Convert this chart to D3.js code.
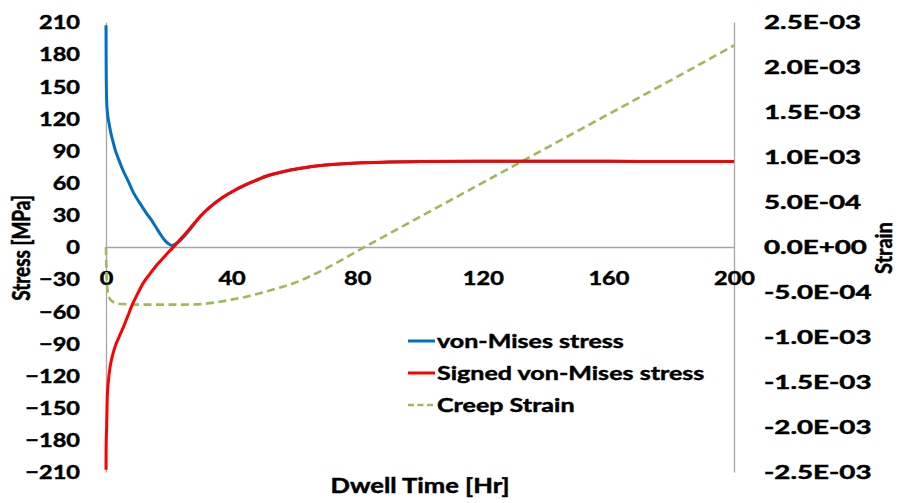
<!DOCTYPE html>
<html>
<head>
<meta charset="utf-8">
<script src="https://cdn.jsdelivr.net/npm/d3@7"></script>
<style>
  body { margin: 0; background: #fff; }
  svg text { font-family: Lato, "Open Sans", sans-serif; font-weight: 700; fill: #000; stroke: #000; stroke-width: 0.45px; }
</style>
</head>
<body>
<svg id="chart" width="899" height="503"></svg>
<script>
// Dwell time [Hr] samples and values for each series
const vonMisesTime = [0, 0.05, 0.2, 0.5, 1, 1.5, 2, 3, 4, 5.5, 7, 8.7, 11, 13, 14.5, 16, 17.3, 18.5, 19.7, 20.9, 22.2, 23.6, 25.2, 26.8, 28.5, 30, 33, 37, 41, 46, 51, 56, 62, 70, 80, 90, 100, 120, 140, 160, 180, 200];
const vonMises = [207, 170, 137, 124, 115, 107, 101, 90, 82, 71, 62, 51, 40, 31, 25, 18, 12, 7, 3.5, 1.5, 3, 6, 11, 16.5, 23, 28.5, 37, 46, 53, 60, 66, 70, 73.5, 76.5, 78.5, 79.3, 79.7, 80, 80, 80, 79.8, 79.7];

const signedTime = [0, 0.05, 0.2, 0.4, 0.8, 1.3, 2, 2.9, 4, 5.5, 7, 8.2, 10, 12, 14, 16, 18, 20, 21.5, 23, 25, 27.5, 30, 33, 37, 41, 46, 51, 56, 62, 70, 80, 90, 100, 120, 140, 160, 180, 200];
const signedVonMises = [-208, -185, -168, -140, -124, -112, -102, -93, -85, -75, -64, -55, -44, -33, -25, -17.5, -11, -4.5, 0, 5, 11.5, 20, 28.5, 37, 46, 53, 60, 66, 70, 73.5, 76.5, 78.5, 79.3, 79.7, 80, 80, 80, 79.8, 79.7];

const creepTime = [0, 0.1, 0.3, 0.6, 1, 1.5, 2.5, 4, 6, 10, 15, 20, 25, 30, 35, 40, 45, 50, 55, 60, 65, 70, 75, 80, 85, 100, 120, 140, 160, 180, 200];
const creepStrain = [0, -2.0e-4, -4.0e-4, -5.0e-4, -5.6e-4, -5.9e-4, -6.15e-4, -6.3e-4, -6.35e-4, -6.4e-4, -6.4e-4, -6.4e-4, -6.4e-4, -6.35e-4, -6.15e-4, -5.85e-4, -5.5e-4, -5.05e-4, -4.55e-4, -4.0e-4, -3.25e-4, -2.4e-4, -1.45e-4, -0.45e-4, 0.5e-4, 3.35e-4, 7.15e-4, 10.95e-4, 14.75e-4, 18.55e-4, 22.4e-4];

// Tick values and labels
const timeTicks = [0, 40, 80, 120, 160, 200];
const stressTicks = [-210, -180, -150, -120, -90, -60, -30, 0, 30, 60, 90, 120, 150, 180, 210];
const strainTicks = [-2.5e-3, -2.0e-3, -1.5e-3, -1.0e-3, -5.0e-4, 0, 5.0e-4, 1.0e-3, 1.5e-3, 2.0e-3, 2.5e-3];
const strainTickLabels = ["-2.5E-03", "-2.0E-03", "-1.5E-03", "-1.0E-03", "-5.0E-04", "0.0E+00", "5.0E-04", "1.0E-03", "1.5E-03", "2.0E-03", "2.5E-03"];

const seriesNames = ["von-Mises stress", "Signed von-Mises stress", "Creep Strain"];
const seriesColors = ["#0070C0", "#FF0000", "#9BBB59"];

const svg = d3.select("#chart");
const axisGray = "#A6A6A6";

const x = d3.scaleLinear().domain([0, 200]).range([106, 734]);
const yStress = d3.scaleLinear().domain([-210, 210]).range([472, 22]);
const yStrain = d3.scaleLinear().domain([-2.5e-3, 2.5e-3]).range([472, 22]);

// Widen tick text horizontally while keeping its anchor in place
function stretch(sel, s) {
  sel.each(function () {
    const t = d3.select(this);
    const xx = +t.attr("x") || 0;
    t.attr("transform", `scale(${s},1)`).attr("x", xx / s);
  });
}

// Left stress axis
const gLeft = svg.append("g").attr("transform", `translate(${x(0)},0)`)
  .call(d3.axisLeft(yStress).tickValues(stressTicks).tickSize(0).tickSizeOuter(0).tickPadding(26));
gLeft.select(".domain").attr("stroke", axisGray).attr("stroke-width", 1.3);
gLeft.selectAll("text").style("font-size", "19px").attr("dy", "0.36em").call(stretch, 1.24);

// Right strain axis
const gRight = svg.append("g").attr("transform", `translate(${x(200)},0)`)
  .call(d3.axisRight(yStrain).tickValues(strainTicks).tickSize(0).tickSizeOuter(0).tickPadding(30)
    .tickFormat((d, i) => strainTickLabels[i]));
gRight.select(".domain").attr("stroke", axisGray).attr("stroke-width", 1.3);
gRight.selectAll("text").style("font-size", "19px").attr("dy", "0.36em").call(stretch, 1.46);

// Time axis along the zero-stress line
const gBottom = svg.append("g").attr("transform", `translate(0,${yStress(0)})`)
  .call(d3.axisBottom(x).tickValues(timeTicks).tickSize(0).tickSizeOuter(0).tickPadding(0));
gBottom.select(".domain").attr("stroke", axisGray).attr("stroke-width", 1.3);
gBottom.selectAll("text").style("font-size", "19px").attr("y", 31).attr("dy", "0.36em").call(stretch, 1.24);

// Axis titles
svg.append("text").attr("transform", "translate(420,486) scale(1.28,1)")
  .attr("text-anchor", "middle").attr("dy", "0.36em").style("font-size", "20px").text("Dwell Time [Hr]");
svg.append("text").attr("transform", "translate(21,248) scale(1.3,1) rotate(-90)")
  .attr("text-anchor", "middle").attr("dy", "0.36em").style("font-size", "19px").text("Stress [MPa]");
svg.append("text").attr("transform", "translate(884,248) scale(1.15,1) rotate(-90)")
  .attr("text-anchor", "middle").attr("dy", "0.34em").style("font-size", "20px").text("Strain");

// Series lines
const stressLine = d3.line().x(d => x(d[0])).y(d => yStress(d[1])).curve(d3.curveMonotoneX);
const strainLine = d3.line().x(d => x(d[0])).y(d => yStrain(d[1])).curve(d3.curveMonotoneX);

svg.append("path").datum(d3.zip(creepTime, creepStrain)).attr("d", strainLine)
  .attr("fill", "none").attr("stroke", seriesColors[2]).attr("stroke-width", 2.6).attr("stroke-dasharray", "8,4.5");
svg.append("path").datum(d3.zip(vonMisesTime, vonMises)).attr("d", stressLine)
  .attr("fill", "none").attr("stroke", seriesColors[0]).attr("stroke-width", 3);
svg.append("path").datum(d3.zip(signedTime, signedVonMises)).attr("d", stressLine)
  .attr("fill", "none").attr("stroke", seriesColors[1]).attr("stroke-width", 3);

// Legend
const legend = svg.append("g");
seriesNames.forEach((name, i) => {
  const ly = 341 + i * 32;
  legend.append("line").attr("x1", 408).attr("x2", 435).attr("y1", ly).attr("y2", ly)
    .attr("stroke", seriesColors[i]).attr("stroke-width", i === 2 ? 2.6 : 3)
    .attr("stroke-dasharray", i === 2 ? "6,3.5" : null);
  legend.append("text").attr("transform", `translate(437,${ly}) scale(1.32,1)`)
    .attr("dy", "0.36em").style("font-size", "19px").text(name);
});
</script>
</body>
</html>
